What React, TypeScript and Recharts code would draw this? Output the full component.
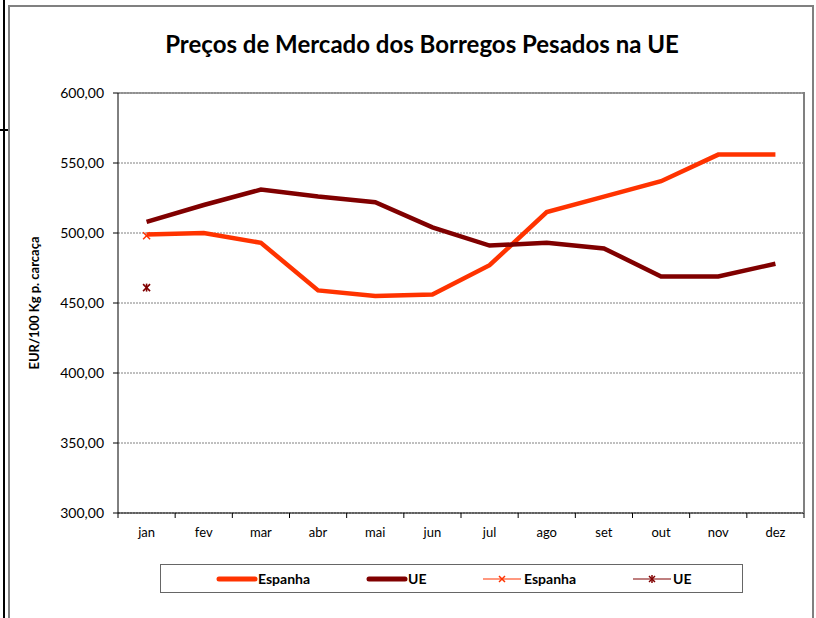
import React from 'react';
import { LineChart, Line, XAxis, YAxis, CartesianGrid, ReferenceLine } from 'recharts';

const months = ['jan', 'fev', 'mar', 'abr', 'mai', 'jun', 'jul', 'ago', 'set', 'out', 'nov', 'dez'];
const espanha = [499, 500, 493, 459, 455, 456, 477, 515, 526, 537, 556, 556];
const ue = [508, 520, 531, 526, 522, 504, 491, 493, 489, 469, 469, 478];
const espanhaMarker: (number | null)[] = [498, null, null, null, null, null, null, null, null, null, null, null];
const ueMarker: (number | null)[] = [461, null, null, null, null, null, null, null, null, null, null, null];
const yTicks = [300, 350, 400, 450, 500, 550, 600];

const data = months.map((m, i) => ({
  month: m,
  espanha: espanha[i],
  ue: ue[i],
  espanhaM: espanhaMarker[i],
  ueM: ueMarker[i],
}));

const ORANGE = '#FF3300';
const DARK = '#800000';
const FONT = 'Lato, sans-serif';

const PLOT_LEFT = 118;
const PLOT_RIGHT = 804;
const PLOT_TOP = 93;
const PLOT_BOTTOM = 513;
const BAND = (PLOT_RIGHT - PLOT_LEFT) / months.length;

const fmt = (v: number) => v.toFixed(2).replace('.', ',');

const XTick = (props: any) => {
  const { x, y, payload, index } = props;
  const left = x - BAND / 2;
  const right = x + BAND / 2;
  return (
    <g>
      <line x1={left} y1={PLOT_BOTTOM} x2={left} y2={PLOT_BOTTOM + 5} stroke="#000" strokeWidth={1} />
      {index === months.length - 1 && (
        <line x1={right} y1={PLOT_BOTTOM} x2={right} y2={PLOT_BOTTOM + 5} stroke="#000" strokeWidth={1} />
      )}
      <text x={x} y={PLOT_BOTTOM + 24} textAnchor="middle" fontSize={13} fontFamily={FONT} fill="#000">
        {payload.value}
      </text>
    </g>
  );
};

const YTick = (props: any) => {
  const { y, payload } = props;
  return (
    <text x={PLOT_LEFT - 14} y={y + 5} textAnchor="end" fontSize={14} fontFamily={FONT} fill="#000">
      {fmt(payload.value)}
    </text>
  );
};

const CrossDot = (props: any) => {
  const { cx, cy, index } = props;
  if (cy == null || cx == null) return <g key={`c${index}`} />;
  const s = 3.5;
  return (
    <g key={`c${index}`}>
      <line x1={cx - s} y1={cy - s} x2={cx + s} y2={cy + s} stroke={ORANGE} strokeWidth={1.5} />
      <line x1={cx - s} y1={cy + s} x2={cx + s} y2={cy - s} stroke={ORANGE} strokeWidth={1.5} />
    </g>
  );
};

const StarDot = (props: any) => {
  const { cx, cy, index } = props;
  if (cy == null || cx == null) return <g key={`s${index}`} />;
  const s = 3.5;
  return (
    <g key={`s${index}`}>
      <line x1={cx - s} y1={cy - s} x2={cx + s} y2={cy + s} stroke={DARK} strokeWidth={1.6} />
      <line x1={cx - s} y1={cy + s} x2={cx + s} y2={cy - s} stroke={DARK} strokeWidth={1.6} />
      <line x1={cx} y1={cy - s - 0.5} x2={cx} y2={cy + s + 0.5} stroke={DARK} strokeWidth={1.6} />
    </g>
  );
};

const legendText: React.CSSProperties = {
  position: 'absolute',
  top: 570,
  fontFamily: FONT,
  fontWeight: 700,
  fontSize: 14,
  lineHeight: '17px',
  color: '#000',
};

export default function App() {
  return (
    <div style={{ position: 'absolute', left: 0, top: 0, width: 816, height: 618, background: '#fff', overflow: 'hidden' }}>
      <div style={{ position: 'absolute', left: 3, top: 0, width: 2, height: 618, background: '#000' }} />
      <div style={{ position: 'absolute', left: 0, top: 129, width: 8, height: 2, background: '#000' }} />
      <div
        style={{
          position: 'absolute',
          left: 8,
          top: 5,
          width: 802,
          height: 620,
          borderTop: '2px solid #808080',
          borderLeft: '2px solid #808080',
          borderRight: '2px solid #808080',
        }}
      />
      <div
        style={{
          position: 'absolute',
          left: 0,
          top: 29,
          width: 844,
          textAlign: 'center',
          fontFamily: FONT,
          fontWeight: 700,
          fontSize: 24,
          lineHeight: '30px',
          color: '#000',
        }}
      >
        Preços de Mercado dos Borregos Pesados na UE
      </div>
      <div
        style={{
          position: 'absolute',
          left: 34,
          top: 303,
          transform: 'translate(-50%, -50%) rotate(-90deg)',
          whiteSpace: 'nowrap',
          fontFamily: FONT,
          fontWeight: 700,
          fontSize: 13,
          color: '#000',
        }}
      >
        EUR/100 Kg p. carcaça
      </div>
      <div style={{ position: 'absolute', left: 0, top: 0 }}>
        <LineChart
          width={816}
          height={618}
          data={data}
          margin={{ top: PLOT_TOP, right: 816 - PLOT_RIGHT, left: PLOT_LEFT - 60, bottom: 618 - PLOT_BOTTOM - 30 }}
        >
          <CartesianGrid horizontal vertical={false} stroke="#808080" strokeDasharray="2 1" />
          <ReferenceLine y={600} stroke="#808080" strokeWidth={1.5} />
          <XAxis
            dataKey="month"
            height={30}
            interval={0}
            padding={{ left: BAND / 2, right: BAND / 2 }}
            tickLine={false}
            axisLine={{ stroke: '#000', strokeWidth: 1 }}
            tick={<XTick />}
          />
          <YAxis
            width={60}
            domain={[300, 600]}
            ticks={yTicks}
            interval={0}
            axisLine={{ stroke: '#000', strokeWidth: 1 }}
            tickLine={{ stroke: '#000' }}
            tickSize={5}
            tick={<YTick />}
          />
          <Line type="linear" dataKey="espanha" stroke={ORANGE} strokeWidth={4.5} dot={false} isAnimationActive={false} />
          <Line type="linear" dataKey="ue" stroke={DARK} strokeWidth={4.5} dot={false} isAnimationActive={false} />
          <Line type="linear" dataKey="espanhaM" stroke={ORANGE} strokeWidth={1} dot={CrossDot} isAnimationActive={false} />
          <Line type="linear" dataKey="ueM" stroke={DARK} strokeWidth={1} dot={StarDot} isAnimationActive={false} />
        </LineChart>
      </div>
      <div
        style={{
          position: 'absolute',
          left: PLOT_RIGHT - 1,
          top: PLOT_TOP - 1,
          width: 2,
          height: PLOT_BOTTOM - PLOT_TOP + 1,
          background: '#808080',
        }}
      />
      <div
        style={{
          position: 'absolute',
          left: 160,
          top: 564,
          width: 581,
          height: 27,
          border: '1.5px solid #666',
          background: '#fff',
        }}
      />
      <svg style={{ position: 'absolute', left: 0, top: 0 }} width={816} height={618} pointerEvents="none">
        <line x1={219} y1={579} x2={255} y2={579} stroke={ORANGE} strokeWidth={5} strokeLinecap="round" />
        <line x1={369} y1={579} x2={405} y2={579} stroke={DARK} strokeWidth={5} strokeLinecap="round" />
        <line x1={483} y1={579} x2={521} y2={579} stroke={ORANGE} strokeWidth={1.2} />
        <line x1={499} y1={576} x2={505} y2={582} stroke={ORANGE} strokeWidth={1.5} />
        <line x1={499} y1={582} x2={505} y2={576} stroke={ORANGE} strokeWidth={1.5} />
        <line x1={633} y1={579} x2={671} y2={579} stroke={DARK} strokeWidth={1.2} />
        <line x1={649} y1={576} x2={655} y2={582} stroke={DARK} strokeWidth={1.5} />
        <line x1={649} y1={582} x2={655} y2={576} stroke={DARK} strokeWidth={1.5} />
        <line x1={652} y1={575} x2={652} y2={583} stroke={DARK} strokeWidth={1.5} />
      </svg>
      <div style={{ ...legendText, left: 258 }}>Espanha</div>
      <div style={{ ...legendText, left: 408 }}>UE</div>
      <div style={{ ...legendText, left: 524 }}>Espanha</div>
      <div style={{ ...legendText, left: 673 }}>UE</div>
    </div>
  );
}
